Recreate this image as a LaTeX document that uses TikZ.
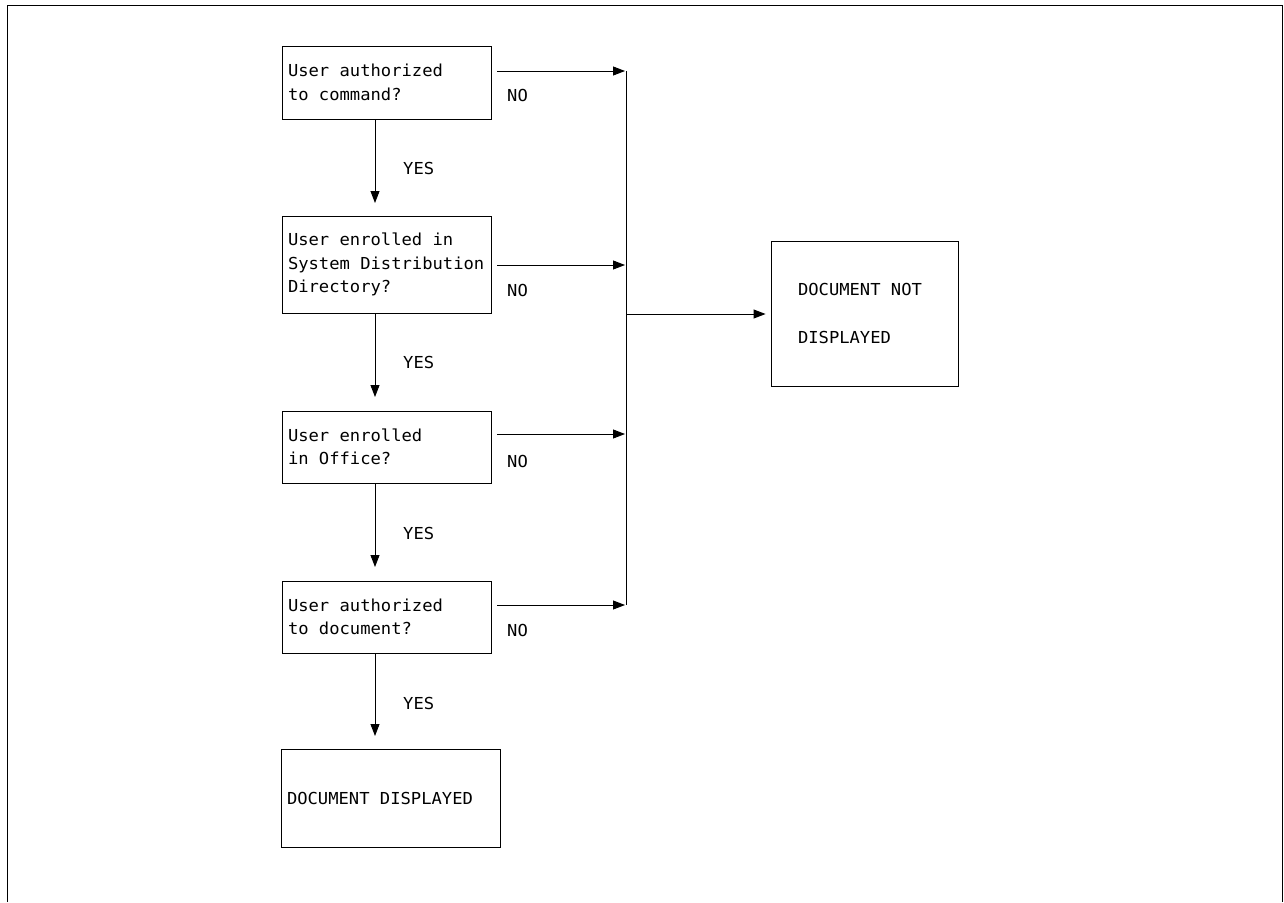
\documentclass[tikz,border=0pt]{standalone}
\usepackage{fontspec}
\newfontfamily\diagfont[FakeStretch=1.04]{DejaVu Sans Mono}
\newcommand\dfont[1]{\diagfont\fontsize{16.5}{#1}\selectfont}
\newcommand\fixspace{\spaceskip=10.3pt\relax\xspaceskip=10.3pt\relax\hyphenpenalty=10000\relax}
\usetikzlibrary{arrows.meta}
\begin{document}
\begin{tikzpicture}[x=1pt,y=-1pt,
  every node/.style={font=\dfont{23.5}, execute at begin node=\fixspace},
  qbox/.style={draw, line width=0.9pt, minimum width=209pt, text width=197pt, inner xsep=6pt, inner ysep=0pt, align=left},
  lbl/.style={anchor=west, inner sep=0pt},
  arr/.style={-{Triangle[length=12pt,width=9pt]}, line width=0.9pt},
  ln/.style={line width=0.9pt}]
\useasboundingbox (0,0) rectangle (1284,902);
\draw[ln] (7,902) -- (7,5) -- (1282,5) -- (1282,902);

\node[qbox, minimum height=73pt] (b1) at (386.5,82.5) {User authorized\\to command?};
\node[qbox, minimum height=97pt] (b2) at (386.5,264.5) {User enrolled in\\System Distribution\\Directory?};
\node[qbox, minimum height=72pt] (b3) at (386.5,447) {User enrolled\\in Office?};
\node[qbox, minimum height=72pt] (b4) at (386.5,617) {User authorized\\to document?};
\node[draw, line width=0.9pt, minimum width=219pt, minimum height=98pt, text width=207pt, inner xsep=6pt, inner ysep=0pt, align=left] (b5) at (390.5,798) {DOCUMENT DISPLAYED};
\node[draw, line width=0.9pt, minimum width=187pt, minimum height=145pt, text width=133pt, inner xsep=27pt, inner ysep=0pt, align=left, font=\dfont{48}] (nd) at (864.5,313.5) {DOCUMENT NOT\\DISPLAYED};

% vertical YES arrows
\coordinate (t2) at (375,203);
\coordinate (t3) at (375,397);
\coordinate (t4) at (375,567);
\coordinate (t5) at (375,736);
\draw[arr] (b1.south -| t2) -- (t2);
\draw[arr] (b2.south -| t3) -- (t3);
\draw[arr] (b3.south -| t4) -- (t4);
\draw[arr] (b4.south -| t5) -- (t5);
\node[lbl] (y1) at (403,168) {YES};
\node[lbl] (y2) at (403,362) {YES};
\node[lbl] (y3) at (403,533) {YES};
\node[lbl] (y4) at (403,703) {YES};

% NO arrows to the collecting line
\coordinate (s1) at (497,71);
\coordinate (s2) at (497,265);
\coordinate (s3) at (497,434);
\coordinate (s4) at (497,605);
\coordinate (j1) at (625,71);
\coordinate (j2) at (625,265);
\coordinate (j3) at (625,434);
\coordinate (j4) at (625,605);
\coordinate (jm) at (626,314);
\draw[arr] (s1) -- (j1);
\draw[arr] (s2) -- (j2);
\draw[arr] (s3) -- (j3);
\draw[arr] (s4) -- (j4);
\draw[ln] (626,71) -- (626,605);
\draw[arr] (jm) -- ([xshift=-5pt]nd.west |- jm);
\node[lbl] (n1) at (507,95) {NO};
\node[lbl] (n2) at (507,290) {NO};
\node[lbl] (n3) at (507,461) {NO};
\node[lbl] (n4) at (507,630) {NO};
\end{tikzpicture}
\end{document}
